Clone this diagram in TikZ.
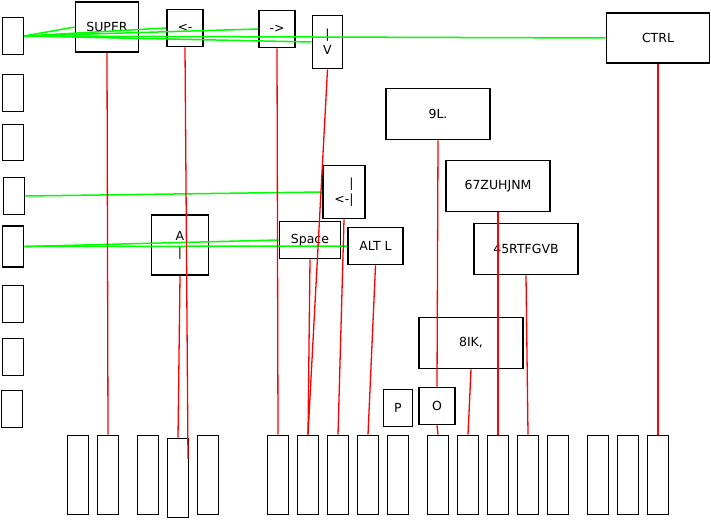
\documentclass[tikz,border=0pt]{standalone}
\usepackage{fontspec}
\setmainfont{DejaVu Sans}

\begin{document}
\begin{tikzpicture}[x=1pt,y=-1pt,
        boite/.style={draw, line width=1.7pt, inner sep=0pt, align=center,
                font=\fontsize{12.5}{16}\selectfont},
        vert/.style={draw=green, line width=1.5pt},
        rouge/.style={draw=red, line width=1.3pt}]
        % On fixe le cadre de l'image : 711 x 519.
        \useasboundingbox (0,0) rectangle (711,519);

        % La colonne de gauche : x/y du centre, puis la hauteur.
        \foreach \x/\y/\h [count=\i] in {13/36/37, 13/93/37, 13/142.5/36, 14/196/37,
                13/246.5/41, 13/304/37, 13/357/37, 12/409/37}
                \node[boite, minimum width=21pt, minimum height=\h pt] (g\i) at (\x,\y) {};

        % La rangée du bas : la 4e touche est un peu plus basse.
        \foreach \x/\y [count=\i] in {78/475, 108/475, 148/475, 178/478, 208/475,
                278/475, 308/475, 338/475, 368/475, 398/475, 438/475, 468/475,
                498/475, 528/475, 558/475, 598/475, 628/475, 658/475}
                \node[boite, minimum width=21pt, minimum height=79pt] (k\i) at (\x,\y) {};

        % Les touches nommées.
        \node[boite, minimum width=63pt, minimum height=50pt] (super) at (107,27) {SUPER};
        \node[boite, minimum width=36pt, minimum height=37pt] (gauche) at (185,28) {<-};
        \node[boite, minimum width=36pt, minimum height=37pt] (droite) at (277,29) {->};
        \node[boite, minimum width=30pt, minimum height=53pt] (bas) at (327.5,42) {|\\V};
        \node[boite, minimum width=103pt, minimum height=50pt] (ctrl) at (658,38) {CTRL};
        \node[boite, minimum width=104pt, minimum height=51pt] (neuf) at (438,114) {9L.};
        \node[boite, minimum width=104pt, minimum height=51pt] (sept) at (498,186) {67ZUHJNM};
        \node[boite, minimum width=104pt, minimum height=51pt] (quatre) at (526,249) {45RTFGVB};
        \node[boite, minimum width=104pt, minimum height=51pt] (huit) at (471,343) {8IK,};
        \node[boite, minimum width=42pt, minimum height=53pt, align=right] (tab) at (344,192) {|\\<-|};
        \node[boite, minimum width=61pt, minimum height=37pt] (space) at (310,240) {Space};
        \node[boite, minimum width=55pt, minimum height=37pt] (alt) at (375.5,246) {ALT L};
        \node[boite, minimum width=57pt, minimum height=60pt] (a) at (180,245) {A\\|};
        \node[boite, minimum width=29pt, minimum height=37pt] (p) at (398,408) {P};
        \node[boite, minimum width=36pt, minimum height=37pt] (o) at (437,406) {O};

        % Le bout libre du trait de <- (il s'arrête dans la 4e touche).
        \coordinate (fin) at (188,459);

        % Les traits verts partent de la colonne de gauche.
        \draw[vert] (g1.east) -- (super.west);
        \draw[vert] (g1.east) -- (gauche.west);
        \draw[vert] (g1.east) -- (droite.west);
        \draw[vert] (g1.east) -- (bas.west);
        \draw[vert] (g1.east) -- (ctrl.west);
        \draw[vert] (g4.east) -- (tab.west);
        \draw[vert] (g5.east) -- (space.west);
        \draw[vert] (g5.east) -- (alt.west);

        % Les traits rouges descendent vers la rangée du bas.
        \draw[rouge] (super.south) -- (k2.north);
        \draw[rouge] (gauche.south) -- (fin);
        \draw[rouge] (a.south) -- (k4.north);
        \draw[rouge] (droite.south) -- (k6.north);
        \draw[rouge] (bas.south) -- (k7.north);
        \draw[rouge] (space.south) -- (k7.north);
        \draw[rouge] (tab.south) -- (k8.north);
        \draw[rouge] (alt.south) -- (k9.north);
        \draw[rouge] (neuf.south) -- (o.north);
        \draw[rouge] (o.south) -- (k11.north);
        \draw[rouge] (huit.south) -- (k12.north);
        \draw[rouge] (sept.south) -- (k13.north);
        \draw[rouge] (quatre.south) -- (k14.north);
        \draw[rouge] (ctrl.south) -- (k18.north);
\end{tikzpicture}
\end{document}
